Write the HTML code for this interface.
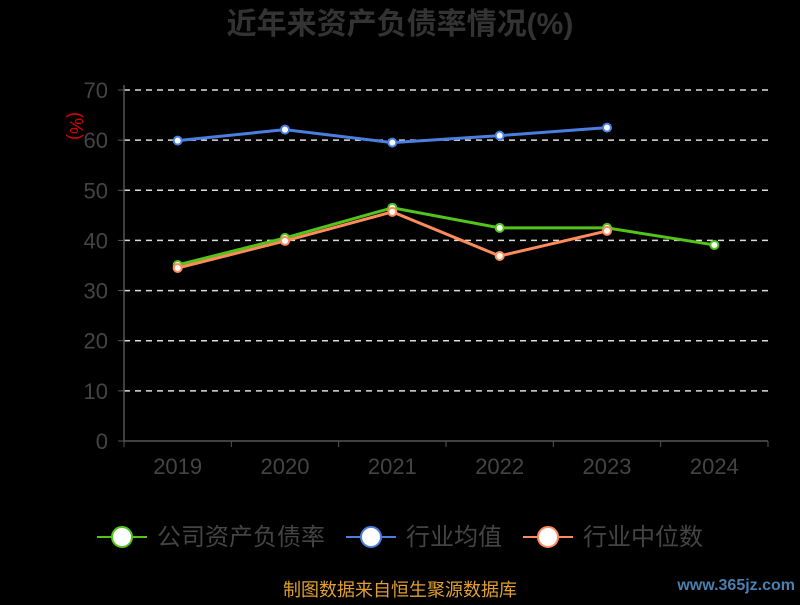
<!DOCTYPE html>
<html><head><meta charset="utf-8"><style>
body{margin:0;background:#000;width:800px;height:600px;overflow:hidden;font-family:"Liberation Sans","Noto Sans CJK SC",sans-serif}
</style></head><body>
<svg id="c" width="800" height="600"></svg>
<script>
const years=["2019","2020","2021","2022","2023","2024"];
const company=[35.1,40.5,46.5,42.5,42.5,39.1];
const industryAvg=[59.9,62.1,59.5,60.9,62.5];
const industryMedian=[34.5,39.9,45.7,36.9,41.9];
const yTicks=[0,10,20,30,40,50,60,70];
const ns="http://www.w3.org/2000/svg";
const svg=document.getElementById('c');
function mk(t,a,p){const e=document.createElementNS(ns,t);for(const k in a)e.setAttribute(k,a[k]);(p||svg).appendChild(e);return e;}
const x0=124,x1=768,y0=441,yTop=90;
const bw=(x1-x0)/years.length;
const X=i=>x0+bw*(i+0.5);
const Y=v=>y0-(v/70)*(y0-yTop);
let t=mk('text',{x:400,y:34,'text-anchor':'middle','font-size':30,'font-weight':'bold',fill:'#333'});t.textContent='近年来资产负债率情况(%)';


t=mk('text',{x:70,y:126,'text-anchor':'middle','font-size':18,fill:'#d00',transform:'rotate(90 70 126)'});t.textContent='(%)';


yTicks.forEach(v=>{
 if(v>0){const l=mk('line',{x1:x0,x2:x1,y1:Y(v),y2:Y(v),stroke:'#ddd','stroke-width':1.5,'stroke-dasharray':'6,5'});
 
 }
 mk('line',{x1:x0-6,x2:x0,y1:Y(v),y2:Y(v),stroke:'#555'});
 const tt=mk('text',{x:x0-16,y:Y(v)+8,'text-anchor':'end','font-size':22,fill:'#444'});tt.textContent=v;
 
 
});
mk('line',{x1:x0,x2:x0,y1:yTop-5,y2:y0,stroke:'#555','stroke-width':1.5});
mk('line',{x1:x0,x2:x1,y1:y0,y2:y0,stroke:'#555','stroke-width':1.5});
years.forEach((yr,i)=>{
 mk('line',{x1:x0+bw*(i+1),x2:x0+bw*(i+1),y1:y0,y2:y0+6,stroke:'#555'});
 const tt=mk('text',{x:X(i),y:474,'text-anchor':'middle','font-size':22,fill:'#444'});tt.textContent=yr;
 
 
});
mk('line',{x1:x0,x2:x0,y1:y0,y2:y0+6,stroke:'#555'});
function series(vals,color,name){
 const p=mk('polyline',{points:vals.map((v,i)=>X(i)+','+Y(v)).join(' '),fill:'none',stroke:color,'stroke-width':3});
 
 
 vals.forEach((v,i)=>{const c=mk('circle',{cx:X(i),cy:Y(v),r:4,fill:'#fff',stroke:color,'stroke-width':2});
 
 });
}
series(industryAvg,'#4a7fe0','industry-average');
series(company,'#52c41a','company');
series(industryMedian,'#ff8c5a','industry-median');
function legend(x,color,label,name){
 const g=mk('g',{});
 
 
 mk('line',{x1:x,x2:x+50,y1:537,y2:537,stroke:color,'stroke-width':2},g);
 mk('circle',{cx:x+25,cy:537,r:10,fill:'#fff',stroke:color,'stroke-width':2},g);
 const tt=mk('text',{x:x+60,y:545,'font-size':24,fill:'#444'},g);tt.textContent=label;
}
legend(97,'#52c41a','公司资产负债率','company');
legend(346,'#4a7fe0','行业均值','industry-average');
legend(523,'#ff8c5a','行业中位数','industry-median');
t=mk('text',{x:400,y:596,'text-anchor':'middle','font-size':18,fill:'#e0a030'});t.textContent='制图数据来自恒生聚源数据库';


t=mk('text',{x:795,y:590,'text-anchor':'end','font-size':16,'font-weight':'bold',fill:'#4a7fb0'});t.textContent='www.365jz.com';


</script>
</body></html>
